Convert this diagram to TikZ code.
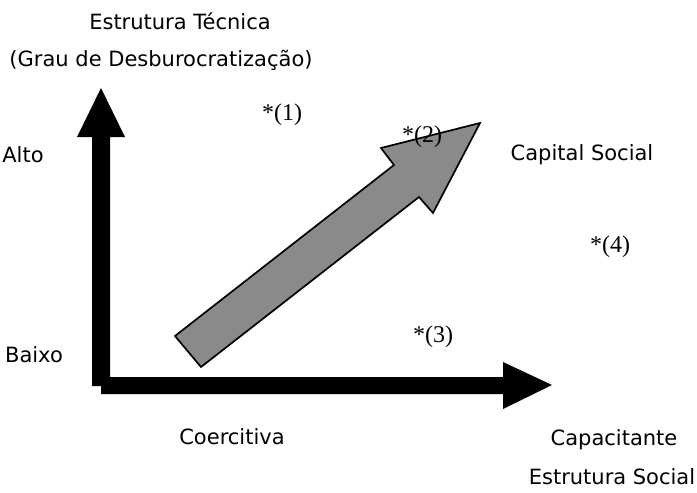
\documentclass[tikz,border=0pt]{standalone}
\usepackage{fontspec}
\setmainfont{Liberation Serif}
\setsansfont{DejaVu Sans}
\begin{document}
\begin{tikzpicture}[x=1pt,y=-1pt,
  lbl/.style={font=\sffamily\fontsize{21}{24}\selectfont, inner sep=0pt},
  mk/.style={font=\rmfamily\fontsize{24}{27}\selectfont, inner sep=0pt},
  axis/.style={fill=black, draw=none},
  bigarrow/.style={fill=black!46, draw=black, line width=1.7pt, line join=miter}]
\useasboundingbox (0,0) rectangle (697,493);
% vertical axis
\fill[axis] (92,386) -- (92,137) -- (77,137) -- (101,88) -- (125,137) -- (110,137) -- (110,386) -- cycle;
% horizontal axis
\fill[axis] (101,377) -- (503,377) -- (503,362) -- (552,385) -- (503,409) -- (503,394) -- (101,394) -- cycle;
% grey arrow
\filldraw[bigarrow] (175,336) -- (394,165) -- (381,148) -- (480,123) -- (433,213) -- (419,197) -- (201,367) -- cycle;
% labels
\node[lbl] (t1) at (180,21) {Estrutura Técnica};
\node[lbl] (t2) at (161,60) {(Grau de Desburocratização)};
\node[lbl] (alto) at (23,155) {Alto};
\node[lbl] (baixo) at (34,355) {Baixo};
\node[lbl] (cap) at (582,155) {Capital Social};
\node[lbl] (coer) at (232,437) {Coercitiva};
\node[lbl] (capa) at (614,440) {Capacitante};
\node[lbl] (es) at (612,477) {Estrutura Social};
\node[mk] (m1) at (282,115) {*(1)};
\node[mk] (m2) at (422,137) {*(2)};
\node[mk] (m3) at (433,337) {*(3)};
\node[mk] (m4) at (610,247) {*(4)};
\end{tikzpicture}
\end{document}
